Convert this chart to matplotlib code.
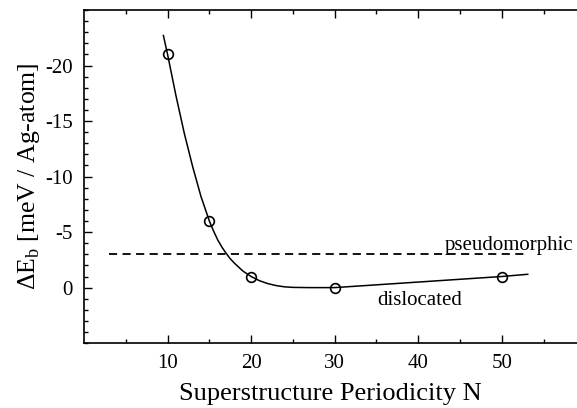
import numpy as np
import matplotlib
matplotlib.use('Agg')
import matplotlib.pyplot as plt
from matplotlib.ticker import MultipleLocator, FixedLocator

plt.rcParams['font.family'] = ['Liberation Serif', 'DejaVu Serif']
plt.rcParams['axes.unicode_minus'] = False
plt.rcParams['mathtext.fontset'] = 'custom'
plt.rcParams['mathtext.rm'] = 'Liberation Serif'

# calculated points
N_pts = [10, 15, 20, 30, 50]
dE_pts = [-21.0, -6.0, -1.0, 0.0, -1.0]

# guide curve
N_curve = [9.5, 10, 11, 12, 13, 14, 15, 15.5, 16, 16.5, 17, 17.5, 18, 19, 20,
           21, 22, 23, 24, 25, 27, 30, 40, 50, 53.1]
dE_curve = [-22.7, -21.0, -17.3, -13.9, -10.9, -8.2, -6.0, -5.1, -4.3, -3.65, -3.1, -2.6, -2.2, -1.5, -1.0,
            -0.62, -0.36, -0.18, -0.07, -0.02, 0.0, 0.0, -0.5, -1.0, -1.2]

# pseudomorphic reference level
N_pseudo = [3, 52.7]
dE_pseudo = [-3.0, -3.0]

fig = plt.figure(figsize=(5.77, 4.08), dpi=100)
ax = fig.add_axes([0.1456, 0.159, 0.8544, 0.8165])

ax.plot(N_curve, dE_curve, color='k', lw=1.1)
ax.plot(N_pts, dE_pts, 'o', ms=7, mfc='none', mec='k', mew=1.2)
ax.plot(N_pseudo, dE_pseudo, color='k', lw=1.3, ls=(0, (4.5, 3)))

ax.text(43.2, -3.4, 'pseudomorphic', fontsize=15, ha='left', va='baseline')
ax.text(35.1, 0.35, 'dislocated', fontsize=15, ha='left', va='top')

ax.set_xlim(0, 59)
ax.set_ylim(5, -25)

ax.xaxis.set_major_locator(FixedLocator([10, 20, 30, 40, 50]))
ax.xaxis.set_minor_locator(FixedLocator([5, 15, 25, 35, 45, 55]))
ax.yaxis.set_major_locator(FixedLocator([-20, -15, -10, -5, 0]))
ax.yaxis.set_minor_locator(MultipleLocator(1))
ax.tick_params(which='both', direction='in', top=True, right=False, labelsize=15, width=1)
ax.tick_params(which='major', length=6, pad=8)
ax.tick_params(which='minor', length=3)
ax.spines['right'].set_visible(False)
for s in ['left', 'top', 'bottom']:
    ax.spines[s].set_linewidth(1.2)

ax.set_xlabel('Superstructure Periodicity N', fontsize=19, labelpad=7)
ax.set_ylabel(r'$\Delta$E$_\mathrm{b}$ [meV / Ag-atom]', fontsize=18.5, labelpad=2)

fig.savefig('out.png', dpi=100)
